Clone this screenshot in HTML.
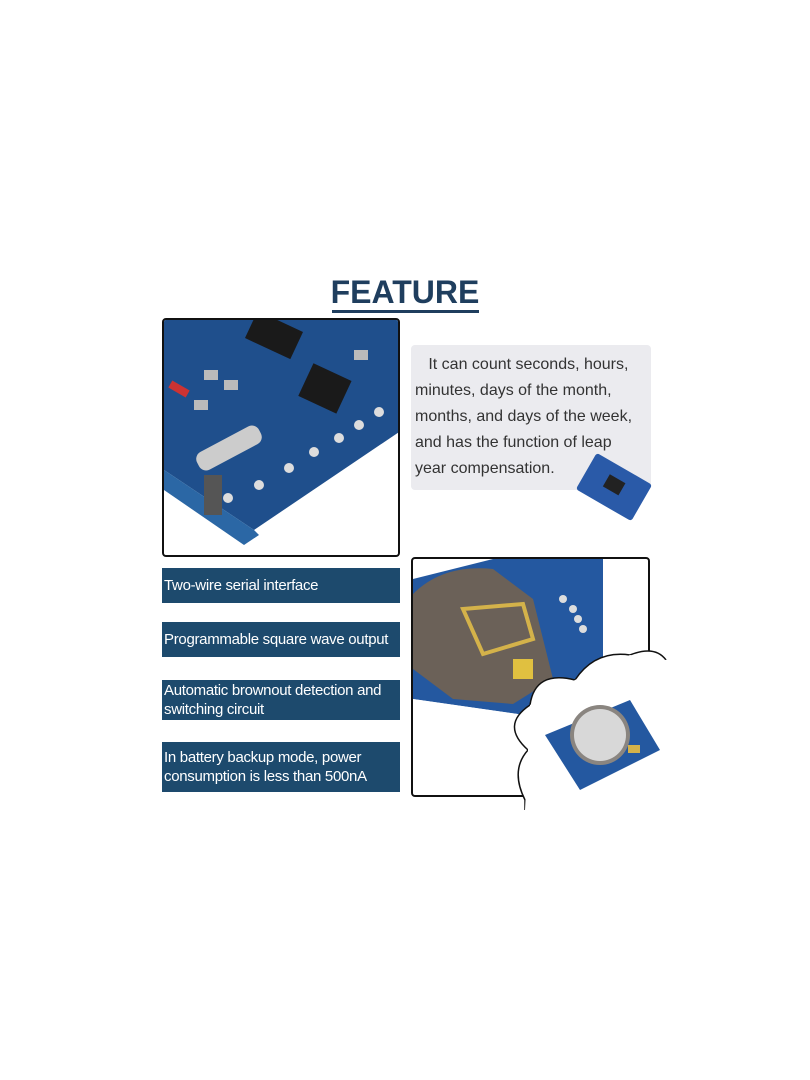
<!DOCTYPE html>
<html><head><style>
body{margin:0;width:810px;height:1080px;background:#fff;position:relative;font-family:"Liberation Sans",sans-serif;overflow:hidden}
.a{position:absolute}
.ban{position:absolute;left:162px;width:238px;background:#1d4a6d;color:#fff;font-size:15px;line-height:20px;padding-left:2px;box-sizing:border-box;display:flex;align-items:center;white-space:nowrap;letter-spacing:-0.3px}
</style></head><body>
<div class="a" style="left:0;width:810px;top:274px;text-align:center;font-size:32px;font-weight:bold;color:#1f3e5e">FEATURE</div>
<div class="a" style="left:332px;top:310px;width:147px;height:3px;background:#1f3e5e"></div>

<div class="a" style="left:162px;top:318px;width:238px;height:239px;border:2px solid #111;border-radius:4px;box-sizing:border-box;overflow:hidden;background:#fff">
<svg width="238" height="239" viewBox="0 0 238 239">
<polygon points="0,0 238,0 238,110 90,210 0,150" fill="#1f4f8c"/>
<polygon points="0,150 90,210 95,215 80,225 0,170" fill="#2b67a5"/>
<rect x="40" y="155" width="18" height="40" fill="#555"/>
<rect x="30" y="118" width="70" height="20" rx="8" fill="#ccc" transform="rotate(-28 65 128)"/>
<rect x="140" y="50" width="42" height="36" fill="#1a1a1a" transform="rotate(25 160 68)"/>
<rect x="85" y="0" width="50" height="30" fill="#1a1a1a" transform="rotate(25 110 15)"/>
<g fill="#ddd"><circle cx="64" cy="178" r="5"/><circle cx="95" cy="165" r="5"/><circle cx="125" cy="148" r="5"/><circle cx="150" cy="132" r="5"/><circle cx="175" cy="118" r="5"/><circle cx="195" cy="105" r="5"/><circle cx="215" cy="92" r="5"/></g>
<rect x="5" y="65" width="20" height="8" fill="#c33" transform="rotate(30 15 69)"/>
<g fill="#bbb"><rect x="40" y="50" width="14" height="10"/><rect x="60" y="60" width="14" height="10"/><rect x="30" y="80" width="14" height="10"/><rect x="190" y="30" width="14" height="10"/></g>
</svg></div>

<div class="a" style="left:411px;top:345px;width:240px;height:145px;background:#ebebef;border-radius:4px"></div>
<div class="a" style="left:415px;top:352px;width:240px;font-size:16px;line-height:26px;color:#333;white-space:nowrap">&nbsp;&nbsp;&nbsp;It can count seconds, hours,<br>minutes, days of the month,<br>months, and days of the week,<br>and has the function of leap<br>year compensation.</div>
<div class="a" style="left:582px;top:466px;width:64px;height:42px;background:#2a5aa8;transform:rotate(30deg);border-radius:3px"><div class="a" style="left:22px;top:12px;width:18px;height:14px;background:#222"></div></div>

<div class="ban" style="top:568px;height:35px">Two-wire serial interface</div>
<div class="ban" style="top:622px;height:35px">Programmable square wave output</div>
<div class="ban" style="top:680px;height:40px;line-height:19px">Automatic brownout detection and<br>switching circuit</div>
<div class="ban" style="top:742px;height:50px;line-height:19px">In battery backup mode, power<br>consumption is less than 500nA</div>

<div class="a" style="left:411px;top:557px;width:239px;height:240px;border:2px solid #111;border-radius:4px;box-sizing:border-box;overflow:hidden;background:#fff">
<svg width="239" height="240">
<polygon points="0,20 80,0 190,0 190,110 140,160 0,140" fill="#2458a0"/>
<polygon points="0,140 140,160 145,170 30,180 0,165" fill="#fff"/>
<path d="M0,35 Q30,5 80,10 L120,40 L140,120 L100,145 L40,140 L0,110Z" fill="#6b6158"/>
<path d="M50,50 L110,45 L120,80 L70,95Z" fill="none" stroke="#d4b24a" stroke-width="4"/>
<rect x="100" y="100" width="20" height="20" fill="#e0c040"/>
<g fill="#ddd"><circle cx="150" cy="40" r="4"/><circle cx="160" cy="50" r="4"/><circle cx="165" cy="60" r="4"/><circle cx="170" cy="70" r="4"/></g>
</svg></div>
<svg class="a" style="left:500px;top:640px" width="180" height="170">
<path d="M25,170 L25,160 Q10,130 28,110 Q0,85 30,65 Q35,30 75,40 Q95,10 130,15 Q155,5 166,20" fill="#fff" stroke="#111" stroke-width="1.5"/>
<polygon points="25,170 28,110 30,65 75,40 130,15 166,20 180,20 180,170" fill="#fff"/>
<polygon points="45,95 130,60 160,110 80,150" fill="#2458a0"/>
<circle cx="100" cy="95" r="30" fill="#8a8580"/><circle cx="100" cy="95" r="26" fill="#d8d8d8"/>
<rect x="128" y="105" width="12" height="8" fill="#d4b24a"/>
</svg>
</body></html>
